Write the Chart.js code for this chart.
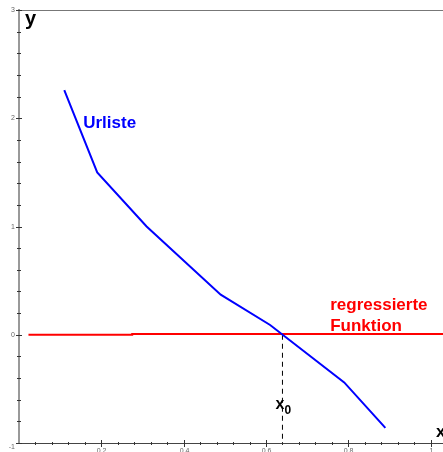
<!DOCTYPE html>
<html>
<head>
<meta charset="utf-8">
<script src="https://cdn.jsdelivr.net/npm/chart.js@4"></script>
<style>
  html, body { margin: 0; padding: 0; background: #fff; }
  canvas { display: block; }
</style>
</head>
<body>
<canvas id="myChart" width="443" height="452"></canvas>
<script>
// values
const urlisteX = [0.11, 0.19, 0.31, 0.49, 0.61, 0.79, 0.89];
const urlisteY = [2.26, 1.50, 1.00, 0.37, 0.09, -0.44, -0.86];

const regX = [0.023, 0.275, 0.275, 1.03];
const regY = [0, 0, 0.008, 0.008];

const x0 = 0.64;
const x0LineY = [0, -1];

const xTickLabels = ['0.2', '0.4', '0.6', '0.8', '1'];
const yTickLabels = ['-1', '0', '1', '2', '3'];

const FONT = '"Liberation Sans", Arial, sans-serif';

function toPoints(xs, ys) {
    return xs.map((x, i) => ({ x: x, y: ys[i] }));
}

function isMultiple(v, step) {
    const r = v / step;
    return Math.abs(r - Math.round(r)) < 1e-6;
}

function fmt(v) {
    return String(Math.round(v * 10) / 10);
}

// ticks that cross the axis, tick labels, the top frame line and the text labels
const decorPlugin = {
    id: 'decor',
    afterDraw(chart) {
        const ctx = chart.ctx;
        const xs = chart.scales.x;
        const ys = chart.scales.y;
        const area = chart.chartArea;
        ctx.save();
        ctx.lineWidth = 1;
        // top line
        ctx.beginPath();
        ctx.moveTo(area.left - 2, area.top + 0.5);
        ctx.lineTo(area.right, area.top + 0.5);
        ctx.strokeStyle = '#777';
        ctx.stroke();

        ctx.strokeStyle = '#333';
        ctx.fillStyle = '#666';
        ctx.font = '7px ' + FONT;
        ctx.textAlign = 'center';
        ctx.textBaseline = 'alphabetic';
        xs.ticks.forEach((t) => {
            if (t.value <= 0) return;
            const px = Math.round(xs.getPixelForValue(t.value)) + 0.5;
            const major = isMultiple(t.value, 0.2);
            ctx.beginPath();
            ctx.moveTo(px, area.bottom - (major ? 3 : 1));
            ctx.lineTo(px, area.bottom + (major ? 4 : 2));
            ctx.stroke();
            const s = fmt(t.value);
            if (major && xTickLabels.includes(s)) {
                ctx.fillText(s, px, area.bottom + 10);
            }
        });
        ctx.textAlign = 'right';
        ctx.textBaseline = 'middle';
        ys.ticks.forEach((t) => {
            const py = Math.round(ys.getPixelForValue(t.value)) + 0.5;
            const major = isMultiple(t.value, 1);
            ctx.beginPath();
            ctx.moveTo(area.left - (major ? 3 : 2), py);
            ctx.lineTo(area.left + (major ? 3 : 2), py);
            ctx.stroke();
            const s = fmt(t.value);
            if (major && yTickLabels.includes(s)) {
                ctx.fillText(s, area.left - 4, s === '-1' ? py + 4 : py);
            }
        });

        // texts
        const px = (v) => xs.getPixelForValue(v);
        const py = (v) => ys.getPixelForValue(v);
        ctx.textBaseline = 'alphabetic';
        ctx.textAlign = 'left';

        ctx.fillStyle = '#000';
        ctx.font = 'bold 20px ' + FONT;
        ctx.fillText('y', area.left + 6, area.top + 15);

        ctx.font = 'bold 17px ' + FONT;
        ctx.fillText('x', area.right - 7, area.bottom - 6);

        ctx.font = 'bold 16px ' + FONT;
        ctx.fillText('x', px(x0) - 7, py(-0.69));
        ctx.font = 'bold 12px ' + FONT;
        ctx.fillText('0', px(x0) + 2, py(-0.73));

        ctx.fillStyle = '#0000ff';
        ctx.font = 'bold 17px ' + FONT;
        ctx.fillText('Urliste', px(0.156), py(1.907));

        ctx.fillStyle = '#ff0000';
        ctx.fillText('regressierte', px(0.756), py(0.23));
        ctx.fillText('Funktion', px(0.756), py(0.035));
        ctx.restore();
    }
};

function mainEvent() {
    const chartTarget = document.querySelector('#myChart');
    const data = {
        datasets: [
            {
                label: 'Urliste',
                data: toPoints(urlisteX, urlisteY),
                showLine: true,
                borderColor: '#0000ff',
                borderWidth: 2,
                pointRadius: 0,
                tension: 0
            },
            {
                label: 'regressierte Funktion',
                data: toPoints(regX, regY),
                showLine: true,
                borderColor: '#ff0000',
                borderWidth: 2,
                pointRadius: 0,
                tension: 0
            },
            {
                label: 'x0',
                data: toPoints([x0, x0], x0LineY),
                showLine: true,
                borderColor: '#000',
                borderWidth: 1,
                borderDash: [5, 4],
                pointRadius: 0
            }
        ]
    };

    const config = {
        type: 'scatter',
        data: data,
        plugins: [decorPlugin],
        options: {
            responsive: false,
            animation: false,
            devicePixelRatio: 1,
            layout: { padding: { top: 10, left: 0, right: 0, bottom: 0 } },
            plugins: { legend: { display: false }, tooltip: { enabled: false } },
            scales: {
                x: {
                    type: 'linear',
                    min: 0,
                    max: 1.03,
                    afterFit: (s) => { s.height = 9; },
                    grid: { display: false },
                    border: { display: true, color: '#444', width: 1 },
                    ticks: {
                        display: false,
                        stepSize: 0.04,
                        includeBounds: false,
                        autoSkip: false
                    }
                },
                y: {
                    type: 'linear',
                    min: -1,
                    max: 3,
                    afterFit: (s) => { s.width = 19; },
                    grid: { display: false },
                    border: { display: true, color: '#999', width: 2 },
                    ticks: {
                        display: false,
                        stepSize: 0.2,
                        autoSkip: false
                    }
                }
            }
        }
    };
    const myChart = new Chart(chartTarget, config);
    console.log(myChart.chartArea);
}

document.addEventListener('DOMContentLoaded', () => mainEvent());
</script>
</body>
</html>
